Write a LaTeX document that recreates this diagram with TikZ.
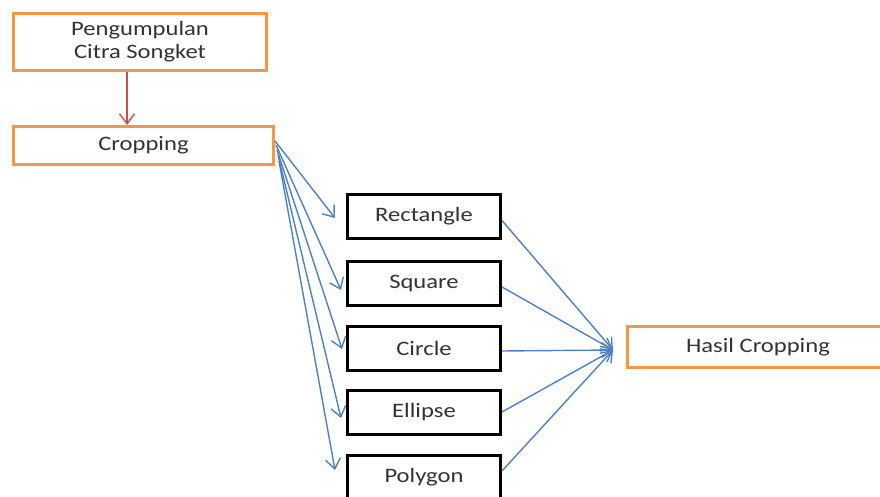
\documentclass[tikz,border=0pt]{standalone}
\usepackage{fontspec}
\setmainfont[FakeStretch=1.2]{Carlito}
\usetikzlibrary{arrows.meta}
\definecolor{offorange}{HTML}{F79646}
\definecolor{offblue}{HTML}{4F81BD}
\definecolor{offred}{HTML}{C0504D}
\tikzset{
  obox/.style={draw=offorange, line width=3pt, fill=white, inner sep=0pt, align=center, text=black!80, font=\fontsize{20.5}{23}\selectfont},
  kbox/.style={draw=black, line width=3pt, fill=white, inner sep=0pt, minimum width=153pt, minimum height=44pt, text=black!80, font=\fontsize{20.5}{23}\selectfont},
  barb/.style={-{Straight Barb[length=10pt,width=15pt,line width=1.4pt]}},
  bline/.style={draw=offblue, line width=1.4pt, barb},
}
\begin{document}
\begin{tikzpicture}[x=1pt,y=-1pt]
\useasboundingbox (0,0) rectangle (880,497);
\clip (0,0) rectangle (880,497);
\node[obox, minimum width=253pt, minimum height=57pt] (peng) at (140,42) {Pengumpulan\\Citra Songket};
\node[obox, minimum width=260pt, minimum height=38pt] (crop) at (143.5,145.5) {Cropping};
\node[kbox] (rect) at (424,216.5) {Rectangle};
\node[kbox] (sq) at (424,283) {Square};
\node[kbox] (circ) at (424,348) {Circle};
\node[kbox] (ell) at (424,412) {Ellipse};
\node[kbox] (poly) at (424,477) {Polygon};
\node[obox, minimum width=262pt, minimum height=41pt] (hasil) at (758,347) {Hasil Cropping};
% start/tip coordinates
\coordinate (s1) at (275,141);
\coordinate (s2) at (276,145);
\coordinate (s3) at (277,150);
\coordinate (s4) at (278,155);
\coordinate (s5) at (279,161);
\coordinate (t1) at (335,218);
\coordinate (t2) at (341,290);
\coordinate (t3) at (342,349);
\coordinate (t4) at (341,418);
\coordinate (t5) at (335,470);
\coordinate (h) at (613,350);
\draw[draw=offred, line width=1.3pt, barb] ([xshift=-13pt]peng.south) -- ([xshift=-16.5pt]crop.north);
\draw[bline] (s1) -- (t1);
\draw[bline] (s2) -- (t2);
\draw[bline] (s3) -- (t3);
\draw[bline] (s4) -- (t4);
\draw[bline] (s5) -- (t5);
\draw[bline] (rect.east) ++(0,4) -- (h);
\draw[bline] (sq.east) ++(0,4) -- (h);
\draw[bline] (circ.east) ++(0,3) -- (h);
\draw[bline] (ell.east) -- (h);
\draw[bline] (poly.east) ++(0,-6) -- (h);
\end{tikzpicture}
\end{document}
